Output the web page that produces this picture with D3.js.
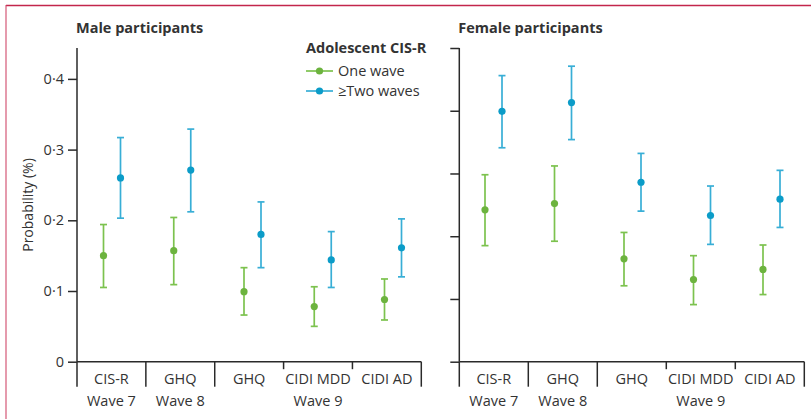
<!DOCTYPE html>
<html>
<head>
<meta charset="utf-8">
<script src="https://cdn.jsdelivr.net/npm/d3@7"></script>
<style>
  body { margin: 0; background: #fff; }
  svg text { font-family: "Open Sans", sans-serif; fill: #333; }
</style>
</head>
<body>
<div id="chart"></div>
<script>
// measures along the x axis (index based, GHQ appears twice)
var measures = ["CIS-R", "GHQ", "GHQ", "CIDI MDD", "CIDI AD"];
var waveLabels = ["Wave 7", "Wave 8", "Wave 9"];
var waveSpans = [[0, 0], [1, 1], [2, 4]];
var seriesNames = ["One wave", "\u2265Two waves"];

// male participants
var maleOne   = [0.150, 0.157, 0.099, 0.078, 0.088];
var maleOneLo = [0.105, 0.109, 0.066, 0.050, 0.059];
var maleOneHi = [0.194, 0.204, 0.133, 0.106, 0.117];
var maleTwo   = [0.260, 0.271, 0.180, 0.144, 0.161];
var maleTwoLo = [0.203, 0.212, 0.133, 0.105, 0.120];
var maleTwoHi = [0.317, 0.329, 0.226, 0.184, 0.202];

// female participants
var femaleOne   = [0.242, 0.252, 0.164, 0.131, 0.147];
var femaleOneLo = [0.185, 0.192, 0.121, 0.091, 0.107];
var femaleOneHi = [0.298, 0.312, 0.206, 0.169, 0.186];
var femaleTwo   = [0.399, 0.413, 0.286, 0.233, 0.259];
var femaleTwoLo = [0.341, 0.354, 0.240, 0.187, 0.214];
var femaleTwoHi = [0.456, 0.471, 0.332, 0.280, 0.305];

var maleTicks = [0, 0.1, 0.2, 0.3, 0.4];
var femaleTicks = [0, 0.1, 0.2, 0.3, 0.4, 0.5];

var green = "#6cb33e", greenBar = "#7cc24e";
var blue = "#0b9cc8", blueBar = "#38aed6";
var axisCol = "#2a2a2a";

var svg = d3.select("#chart").append("svg")
    .attr("width", 811)
    .attr("height", 419);

// frame
svg.append("line").attr("x1", 6).attr("x2", 811).attr("y1", 5.5).attr("y2", 5.5)
    .attr("stroke", "#c3264b").attr("stroke-width", 1.3);
svg.append("line").attr("x1", 6).attr("x2", 6).attr("y1", 5).attr("y2", 419)
    .attr("stroke", "#d0486a").attr("stroke-width", 1.1);

var yTop = 48, yBase = 361.7;

function fmt(v) { return d3.format(".1f")(v).replace(".", "\u00b7").replace(/^0\u00b70$/, "0"); }

function drawPanel(cfg) {
    var y = d3.scaleLinear().domain(cfg.domain).range([yBase, yTop]);
    var xb = d3.scaleBand().domain(d3.range(measures.length)).range([cfg.x0, cfg.x1]);
    var xp = d3.scalePoint().domain(d3.range(measures.length)).range(cfg.pts);
    var g = svg.append("g");

    g.append("text").attr("x", cfg.x0 - 1).attr("y", 33)
        .style("font-weight", "bold").style("font-size", "14.5px")
        .text(cfg.title);

    // y axis
    var yAxis = d3.axisLeft(y).tickValues(cfg.ticks).tickSize(9).tickPadding(4)
        .tickFormat(cfg.labels ? fmt : "");
    var ya = g.append("g").attr("transform", "translate(" + cfg.x0 + ",0)").call(yAxis);
    ya.select(".domain").attr("d", "M0," + yTop + "V" + yBase).attr("stroke", axisCol).attr("stroke-width", 1.5);
    ya.selectAll(".tick line").attr("stroke", axisCol).attr("stroke-width", 1.5);
    ya.selectAll(".tick text").style("font-size", "14.5px").attr("fill", "#333");

    // x axis baseline
    g.append("line").attr("x1", cfg.x0).attr("x2", cfg.x1).attr("y1", yBase).attr("y2", yBase)
        .attr("stroke", axisCol).attr("stroke-width", 1.5);

    // separators: long between waves, short inside Wave 9
    var bounds = d3.range(measures.length + 1);
    g.selectAll(".sep").data(bounds).enter().append("line")
        .attr("x1", function (i) { return i < measures.length ? xb(i) : cfg.x1; })
        .attr("x2", function (i) { return i < measures.length ? xb(i) : cfg.x1; })
        .attr("y1", yBase)
        .attr("y2", function (i) { return (i === 3 || i === 4) ? yBase + 7.5 : yBase + 25; })
        .attr("stroke", axisCol).attr("stroke-width", 1.5);

    g.selectAll(".mlab").data(measures).enter().append("text")
        .attr("x", function (d, i) { return xb(i) + xb.bandwidth() / 2; })
        .attr("y", yBase + 22)
        .attr("text-anchor", "middle").style("font-size", "14.5px")
        .text(function (d) { return d; });

    g.selectAll(".wlab").data(waveLabels).enter().append("text")
        .attr("x", function (d, i) {
            var s = waveSpans[i];
            return (xb(s[0]) + xb(s[1]) + xb.bandwidth()) / 2;
        })
        .attr("y", yBase + 44)
        .attr("text-anchor", "middle").style("font-size", "14.5px")
        .text(function (d) { return d; });

    // error bars and points
    cfg.series.forEach(function (s) {
        var rows = s.val.map(function (v, i) { return { i: i, v: v, lo: s.lo[i], hi: s.hi[i] }; });
        var sg = g.append("g");
        var cx = function (d) { return xp(d.i) + s.dx; };
        sg.selectAll(".bar").data(rows).enter().append("line")
            .attr("x1", cx).attr("x2", cx)
            .attr("y1", function (d) { return y(d.lo); })
            .attr("y2", function (d) { return y(d.hi); })
            .attr("stroke", s.bar).attr("stroke-width", 1.7);
        ["lo", "hi"].forEach(function (k) {
            sg.selectAll(".cap" + k).data(rows).enter().append("line")
                .attr("x1", function (d) { return cx(d) - 3.5; })
                .attr("x2", function (d) { return cx(d) + 3.5; })
                .attr("y1", function (d) { return y(d[k]); })
                .attr("y2", function (d) { return y(d[k]); })
                .attr("stroke", s.bar).attr("stroke-width", 1.7);
        });
        sg.selectAll(".pt").data(rows).enter().append("circle")
            .attr("cx", cx).attr("cy", function (d) { return y(d.v); })
            .attr("r", 3.6).attr("fill", s.dot);
    });
}

drawPanel({
    title: "Male participants", x0: 77, x1: 421.3, pts: [112, 393],
    domain: [0, 0.4437], ticks: maleTicks, labels: true,
    series: [
        { val: maleOne, lo: maleOneLo, hi: maleOneHi, dot: green, bar: greenBar, dx: -8.5 },
        { val: maleTwo, lo: maleTwoLo, hi: maleTwoHi, dot: blue, bar: blueBar, dx: 8.5 }
    ]
});
drawPanel({
    title: "Female participants", x0: 459.3, x1: 804.3, pts: [493.5, 771.5],
    domain: [0, 0.5], ticks: femaleTicks, labels: false,
    series: [
        { val: femaleOne, lo: femaleOneLo, hi: femaleOneHi, dot: green, bar: greenBar, dx: -8.5 },
        { val: femaleTwo, lo: femaleTwoLo, hi: femaleTwoHi, dot: blue, bar: blueBar, dx: 8.5 }
    ]
});

// y axis title
svg.append("text")
    .attr("transform", "translate(33,205) rotate(-90)")
    .attr("text-anchor", "middle").style("font-size", "14px")
    .text("Probability (%)");

// legend
var leg = svg.append("g");
leg.append("text").attr("x", 306).attr("y", 53)
    .style("font-weight", "bold").style("font-size", "14.5px")
    .text("Adolescent CIS-R");
var legY = d3.scalePoint().domain(seriesNames).range([71, 91]);
var legCol = [[green, greenBar], [blue, blueBar]];
seriesNames.forEach(function (n, i) {
    leg.append("line").attr("x1", 306).attr("x2", 333)
        .attr("y1", legY(n)).attr("y2", legY(n))
        .attr("stroke", legCol[i][1]).attr("stroke-width", 1.7);
    leg.append("circle").attr("cx", 319.5).attr("cy", legY(n)).attr("r", 3.6).attr("fill", legCol[i][0]);
    leg.append("text").attr("x", 338).attr("y", legY(n) + 5)
        .style("font-size", "14.5px").text(n);
});
</script>
</body>
</html>
